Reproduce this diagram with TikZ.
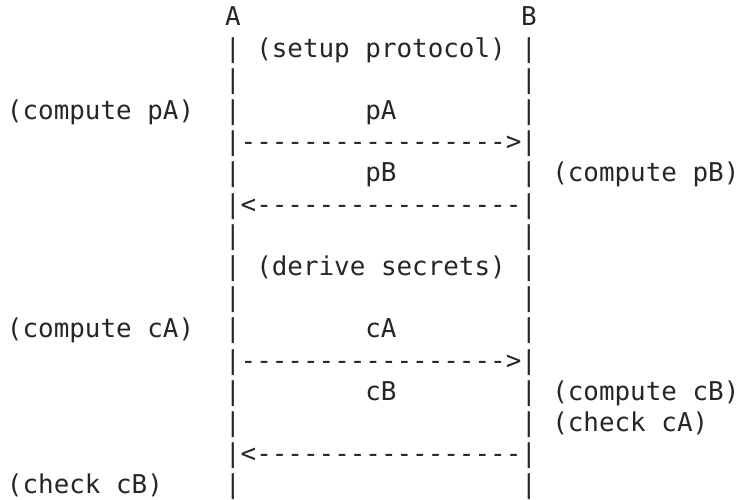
\documentclass[tikz,border=0pt]{standalone}
\usepackage{fontspec}
\setmonofont{DejaVu Sans Mono}
\usetikzlibrary{positioning}
\tikzset{
  ascii/.style={anchor=base west, inner sep=0pt, outer sep=0pt,
    text height=0.76em, text depth=0.24em, text=black!85,
    font=\ttfamily\fontsize{12.95pt}{15.6pt}\selectfont},
}

\begin{document}
\begin{tikzpicture}[x=7.79pt, y=-15.6pt]
      \useasboundingbox (-0.449,-0.833) rectangle (46.92,15.19);
      % Define nodes
      \node[ascii] (A) at (14,0) {A};
      \node[ascii] (B) at (33,0) {B};
      \foreach \r in {1,...,15}{
        \node[ascii] (barA\r) at (14,\r) {|};
        \node[ascii] (barB\r) at (33,\r) {|};
      }
      \node[ascii] (setup)  at (16,1) {(setup protocol)};
      \node[ascii] (derive) at (16,8) {(derive secrets)};
      \node[ascii] (computepA) at (0,3)   {(compute pA)};
      \node[ascii] (computepB) at (35,5)  {(compute pB)};
      \node[ascii] (computecA) at (0,10)  {(compute cA)};
      \node[ascii] (computecB) at (35,12) {(compute cB)};
      \node[ascii] (checkcA)   at (35,13) {(check cA)};
      \node[ascii] (checkcB)   at (0,15)  {(check cB)};
      \node[ascii] (pA) at (23,3)  {pA};
      \node[ascii] (pB) at (23,5)  {pB};
      \node[ascii] (cA) at (23,10) {cA};
      \node[ascii] (cB) at (23,12) {cB};
      % Connect nodes
      \node[ascii, right=0pt of barA4]  (sendpA) {----------------->};
      \node[ascii, right=0pt of barA6]  (sendpB) {<-----------------};
      \node[ascii, right=0pt of barA11] (sendcA) {----------------->};
      \node[ascii, right=0pt of barA14] (sendcB) {<-----------------};
    \end{tikzpicture}
\end{document}
